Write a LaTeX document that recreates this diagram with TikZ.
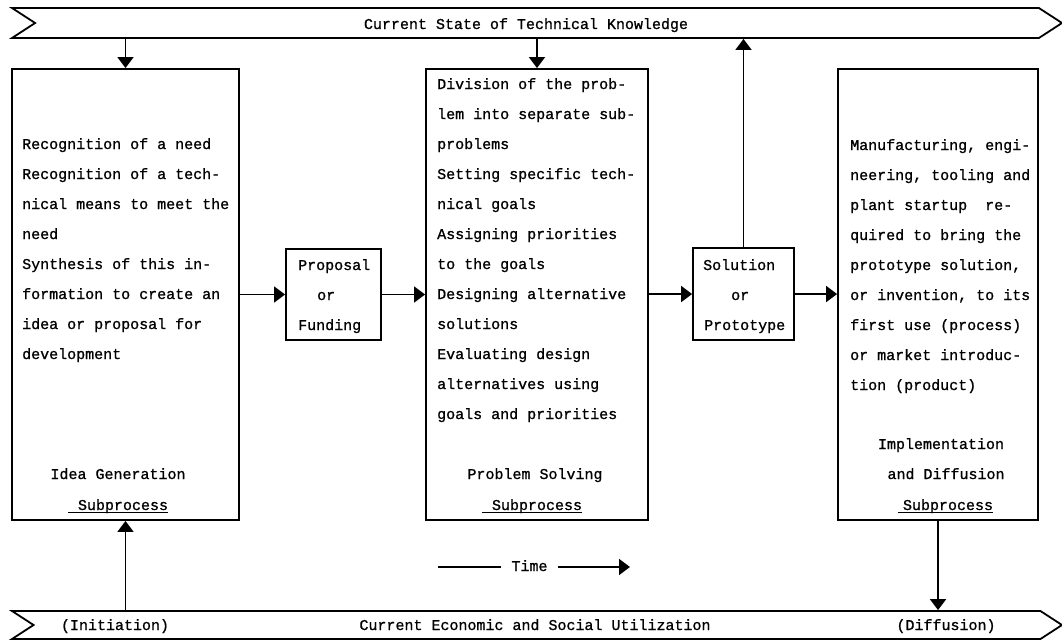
\documentclass[tikz,border=0pt]{standalone}
\usepackage{fontspec}
\newfontfamily\typew[FakeBold=1]{Liberation Mono}
\usetikzlibrary{arrows.meta,shapes.symbols}
\newcommand\twfont{\typew\fontsize{15pt}{30pt}\selectfont}
\begin{document}
\begin{tikzpicture}[x=1pt,y=-1pt,
  every node/.style={font=\twfont, inner sep=0pt},
  box/.style={draw, line width=1.8pt, inner sep=0pt},
  band/.style={draw, line width=1.8pt, signal, signal from=west, signal to=east,
    signal pointer angle=66, minimum width=1050pt, inner sep=0pt},
  arr/.style={line width=1.8pt, -{Triangle[length=11pt,width=16pt]}},
  ln/.style={anchor=base west},
  ctr/.style={anchor=base},
  uline/.style={line width=1.3pt},
]
\useasboundingbox (0,0) rectangle (1062,640);

% the two bands of knowledge and utilization
\node[band, minimum height=30pt] (top) at (537,23) {};
\node[band, minimum height=28pt] (bot) at (537,625) {};
\node[ctr] (toplbl) at (526,29) {Current State of Technical Knowledge};
\node[ctr] (botlbl) at (535,630) {Current Economic and Social Utilization};
\node[ctr] (init) at (115,630) {(Initiation)};
\node[ctr] (diff) at (946,630) {(Diffusion)};

% subprocess boxes and the intermediate results
\node[box, minimum width=227pt, minimum height=451pt] (idea)  at (125.5,294.5) {};
\node[box, minimum width=95pt,  minimum height=91pt]  (prop)  at (333.5,294.5) {};
\node[box, minimum width=222pt, minimum height=451pt] (solve) at (537,294.5) {};
\node[box, minimum width=101pt, minimum height=92pt]  (proto) at (743.5,294) {};
\node[box, minimum width=200pt, minimum height=451pt] (impl)  at (938,294.5) {};

% idea generation
\foreach \t [count=\i from 0] in {Recognition of a need, Recognition of a tech-,
  nical means to meet the, need, Synthesis of this in-, formation to create an,
  idea or proposal for, development}
  \node[ln] (ig\i) at (22,149+30*\i) {\t};
\node[ctr] (igname) at (118,479) {Idea Generation};
\node[ctr] (igsub) at (123,510) {Subprocess};
\draw[uline] ([xshift=-10pt,yshift=1pt]igsub.south west) -- ([yshift=1pt]igsub.south east);

% proposal or funding
\node[ln] (p0) at (298,270) {Proposal};
\node[ln] (p1) at (317,300) {or};
\node[ln] (p2) at (298,330) {Funding};

% problem solving
\foreach \t [count=\i from 0] in {Division of the prob-, lem into separate sub-,
  problems, Setting specific tech-, nical goals, Assigning priorities,
  to the goals, Designing alternative, solutions, Evaluating design,
  alternatives using, goals and priorities}
  \node[ln] (ps\i) at (437,89+30*\i) {\t};
\node[ctr] (psname) at (535,479) {Problem Solving};
\node[ctr] (pssub) at (537,510) {Subprocess};
\draw[uline] ([xshift=-10pt,yshift=1pt]pssub.south west) -- ([yshift=1pt]pssub.south east);

% solution or prototype
\node[ln] (s0) at (703,270) {Solution};
\node[ln] (s1) at (731,300) {or};
\node[ln] (s2) at (704,330) {Prototype};

% implementation and diffusion
\foreach \t [count=\i from 0] in {{Manufacturing, engi-}, {neering, tooling and},
  plant startup\ \ re-, quired to bring the, {prototype solution,},
  {or invention, to its}, first use (process), or market introduc-,
  tion (product)}
  \node[ln] (id\i) at (850,150+30*\i) {\t};
\node[ctr] (idname) at (941,449) {Implementation};
\node[ctr] (idname2) at (946,479) {and Diffusion};
\node[ctr] (idsub) at (948,510) {Subprocess};
\draw[uline] ([xshift=-5pt,yshift=1pt]idsub.south west) -- ([yshift=1pt]idsub.south east);

% flows
\draw[arr] (idea.north |- top.south) -- (idea.north);
\draw[arr] (solve.north |- top.south) -- (solve.north);
\draw[arr] (proto.north) -- (proto.north |- top.south);
\draw[arr] (idea.south |- bot.north) -- (idea.south);
\draw[arr] (impl.south) -- (impl.south |- bot.north);
\draw[arr] (idea.east) -- (prop.west);
\draw[arr] (prop.east) -- (solve.west);
\draw[arr] (solve.east |- proto.west) -- (proto.west);
\draw[arr] (proto.east) -- (impl.west |- proto.east);

% time axis
\node[ctr] (time) at (529.5,571) {Time};
\coordinate (tstart) at (438,567);
\coordinate (tend) at (630,567);
\draw[line width=1.8pt] (tstart) -- ([xshift=-10pt]time.west |- tstart);
\draw[arr] ([xshift=10pt]time.east |- tend) -- (tend);
\end{tikzpicture}
\end{document}
